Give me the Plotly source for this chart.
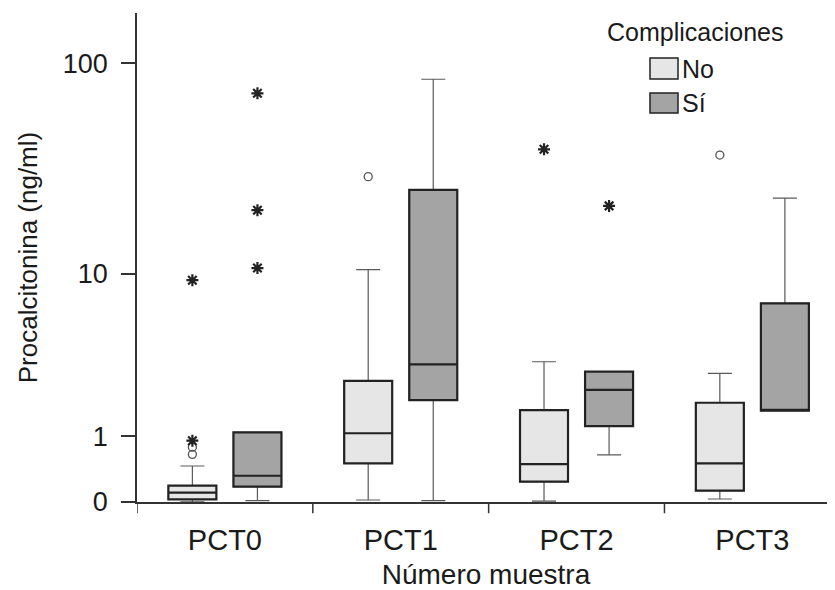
import numpy as np
import plotly.graph_objects as go

# ---------------- data ----------------
categories = ["PCT0", "PCT1", "PCT2", "PCT3"]
groups = ["No", "Sí"]

# Complicaciones = No
no_lowerfence = [0.002, 0.021, 0.01, 0.032]
no_q1 = [0.029, 0.50, 0.238, 0.126]
no_median = [0.103, 1.06, 0.49, 0.50]
no_q3 = [0.187, 2.57, 1.63, 1.84]
no_upperfence = [0.46, 10.5, 3.37, 2.87]

# Complicaciones = Sí
si_lowerfence = [0.014, 0.014, 0.64, 1.61]
si_q1 = [0.175, 1.92, 1.22, 1.61]
si_median = [0.318, 3.25, 2.25, 1.61]
si_q3 = [1.08, 25.6, 2.94, 7.08]
si_upperfence = [1.08, 84.2, 2.94, 23.4]

# outliers (o = atípicos, * = extremos)
no_outlier_cat = ["PCT0", "PCT0", "PCT1", "PCT3"]
no_outlier_val = [0.65, 0.78, 29.6, 37.4]
no_extreme_cat = ["PCT0", "PCT0", "PCT2"]
no_extreme_val = [0.905, 9.3, 39.8]
si_extreme_cat = ["PCT0", "PCT0", "PCT0", "PCT2"]
si_extreme_val = [10.7, 20.5, 72.5, 21.5]

y_tick_values = [0, 1, 10, 100]

# ---------------- styling ----------------
fills = {"No": "#e6e6e6", "Sí": "#a4a4a4"}
offsets = {"No": -0.185, "Sí": 0.185}
box_w = 0.273
FONT = "Liberation Sans, Arial, sans-serif"
PAGE_OFF = 8  # default body margin of the html page


def tf(v):
    return np.log10(1.0 + np.asarray(v, dtype=float))


def pos(cats, group):
    return [categories.index(c) + offsets[group] for c in cats]


stats = {
    "No": (no_lowerfence, no_q1, no_median, no_q3, no_upperfence),
    "Sí": (si_lowerfence, si_q1, si_median, si_q3, si_upperfence),
}

fig = go.Figure()
for g in groups:
    lo, q1, med, q3, hi = stats[g]
    xs = pos(categories, g)
    # whiskers (thin grey)
    fig.add_trace(go.Box(
        x=xs, q1=tf(q1), median=tf(med), q3=tf(q3),
        lowerfence=tf(lo), upperfence=tf(hi),
        width=box_w, whiskerwidth=0.5, fillcolor=fills[g],
        line=dict(color="#5a5a5a", width=1.2), boxpoints=False,
        name=g, showlegend=False, hoverinfo="skip"))
    # box body (thick dark outline)
    fig.add_trace(go.Box(
        x=xs, q1=tf(q1), median=tf(med), q3=tf(q3),
        lowerfence=tf(q1), upperfence=tf(q3),
        width=box_w, whiskerwidth=0, fillcolor=fills[g],
        line=dict(color="#222222", width=2.2), boxpoints=False,
        name=g, showlegend=False))

fig.add_trace(go.Scatter(
    x=pos(no_outlier_cat, "No"), y=tf(no_outlier_val), mode="markers",
    marker=dict(symbol="circle-open", size=8, color="#555555", line=dict(width=1.3)),
    showlegend=False))
for cats, vals, g in [(no_extreme_cat, no_extreme_val, "No"), (si_extreme_cat, si_extreme_val, "Sí")]:
    fig.add_trace(go.Scatter(
        x=pos(cats, g), y=tf(vals), mode="markers",
        marker=dict(symbol="asterisk-open", size=10, color="#222222",
                    line=dict(width=2.2, color="#222222")),
        showlegend=False))

# category boundary ticks on the x axis
shapes = []
for i in range(len(categories)):
    shapes.append(dict(type="line", xref="x", yref="paper", x0=i - 0.5, x1=i - 0.5,
                       y0=0, y1=-0.023, line=dict(color="#333333", width=1.5)))

# manual legend (page-pixel positions converted to plot-area fractions)
L, T, W, H = 137, 13, 698, 489


def px(xp):
    return (xp - L) / W


def py(yp):
    return (T + H - yp) / H


legend_rows = {"No": (58, 79), "Sí": (93, 113)}
annotations = [dict(text="Complicaciones", x=px(695), y=py(32), xref="paper", yref="paper",
                    showarrow=False, font=dict(size=25, color="#1a1a1a", family=FONT),
                    xanchor="center", yanchor="middle")]
for g in groups:
    y0, y1 = legend_rows[g]
    shapes.append(dict(type="rect", xref="paper", yref="paper", x0=px(650), x1=px(678),
                       y0=py(y1), y1=py(y0), fillcolor=fills[g],
                       line=dict(color="#222222", width=1.5)))
    annotations.append(dict(text=g, x=px(680), y=py((y0 + y1) / 2), xref="paper", yref="paper",
                            showarrow=False, xanchor="left", yanchor="middle",
                            font=dict(size=25, color="#1a1a1a", family=FONT)))

fig.update_layout(
    width=835 - PAGE_OFF, height=590 - PAGE_OFF,
    margin=dict(l=L - PAGE_OFF, r=0, t=T - PAGE_OFF, b=590 - (T + H), autoexpand=False),
    paper_bgcolor="white", plot_bgcolor="white",
    boxmode="overlay",
    font=dict(family=FONT, color="#1a1a1a", size=24),
    shapes=shapes, annotations=annotations,
    xaxis=dict(range=[-0.5, 3.47], tickvals=list(range(len(categories))), ticktext=categories,
               showline=True, linecolor="#333333", linewidth=1.5, ticks="",
               ticklabelstandoff=11, automargin=False,
               showgrid=False, zeroline=False, tickfont=dict(size=29),
               title=dict(text="Número muestra", font=dict(size=28), standoff=13)),
    yaxis=dict(range=[0, 2.233], tickvals=tf(y_tick_values), ticktext=[str(v) for v in y_tick_values],
               showline=True, linecolor="#333333", linewidth=1.5, ticks="outside",
               ticklen=14, tickcolor="#333333", tickwidth=1.5, ticklabelstandoff=8,
               automargin=False,
               showgrid=False, zeroline=False, tickfont=dict(size=27),
               title=dict(text="Procalcitonina (ng/ml)", font=dict(size=26), standoff=18)),
)

fig.write_html("out.html")
